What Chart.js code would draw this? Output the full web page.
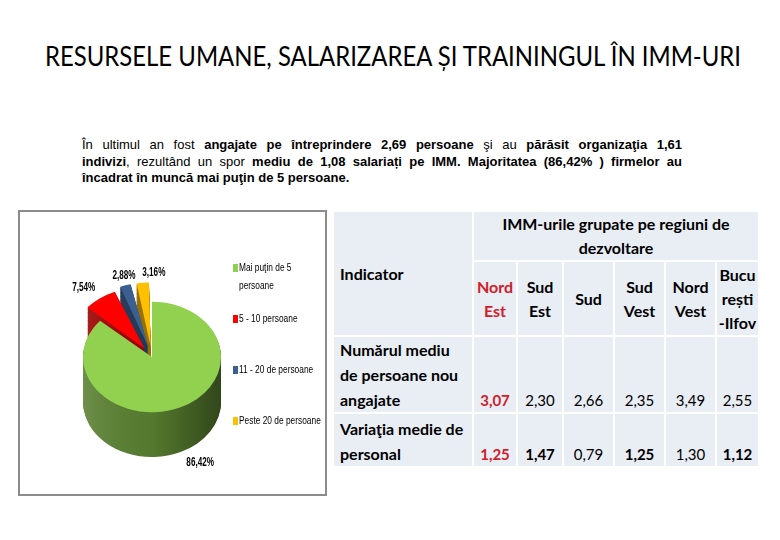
<!DOCTYPE html>
<html>
<head>
<meta charset="utf-8">
<title>Resursele umane în IMM-uri</title>
<script src="https://cdn.jsdelivr.net/npm/chart.js"></script>
<style>
  body { margin:0; width:780px; height:540px; background:#fff; position:relative; overflow:hidden; }
  #title { position:absolute; left:0; top:39px; width:780px; text-align:center; font-family:Lato, "Open Sans", sans-serif; font-size:27px; color:#000; white-space:nowrap; }
  #title span { display:inline-block; transform-origin:center; }
  #intro { position:absolute; left:82px; top:137px; width:600px; margin:0; font-family:"Liberation Sans", Arial, sans-serif; font-size:13px; line-height:16.5px; color:#000; }
  #intro div { text-align:justify; text-align-last:justify; white-space:nowrap; }
  #intro div:last-child { text-align-last:left; }
  #pieBox { position:absolute; left:18px; top:210px; width:309px; height:286px; box-sizing:border-box; border:2px solid #8c8c8c; }
  #regionTable { position:absolute; left:332px; top:210px; border-collapse:separate; border-spacing:2px; table-layout:fixed; font-family:Lato, sans-serif; font-size:15px; color:#000; }
  #regionTable th, #regionTable td { background:#e9edf4; padding:0; white-space:nowrap; }
  #regionTable th { font-weight:bold; font-size:16px; line-height:24px; vertical-align:middle; text-align:center; }
  #regionTable th.ind { text-align:left; padding-left:6px; }
  #regionTable td { vertical-align:bottom; text-align:center; line-height:24px; }
  #regionTable td.ind { text-align:left; padding-left:6px; font-weight:bold; font-size:16px; line-height:25px; }
  #regionTable .hl { color:#d0202a; font-weight:bold; }
  #regionTable tr.r2 td:nth-child(3), #regionTable tr.r2 td:nth-child(5), #regionTable tr.r2 td:nth-child(7) { font-weight:bold; }
</style>
</head>
<body>
<div id="title"><span>RESURSELE UMANE, SALARIZAREA ȘI TRAININGUL ÎN IMM-URI</span></div>
<div id="intro">
  <div>În ultimul an fost <b>angajate pe întreprindere 2,69 persoane</b> şi au <b>părăsit organizaţia 1,61</b></div>
  <div><b>indivizi</b>, rezultând un spor <b>mediu de 1,08 salariați pe IMM. Majoritatea (86,42% ) firmelor au</b></div>
  <div><b>încadrat în muncă mai puţin de 5 persoane.</b></div>
</div>
<div id="pieBox"><canvas id="pieChart" width="305" height="282"></canvas></div>
<table id="regionTable"></table>
<script>
// pie: firme după numărul de persoane angajate
const sizeLabels = [["Mai puţin de 5", "persoane"], ["5 - 10 persoane"], ["11 - 20 de persoane"], ["Peste 20 de persoane"]];
const sizeShares = [86.42, 7.54, 2.88, 3.16];
const sizeColors = ["#92d050", "#ff0000", "#3b5f91", "#ffc000"];

// tabel: IMM-urile grupate pe regiuni de dezvoltare
const regions = [["Nord", "Est"], ["Sud", "Est"], ["Sud"], ["Sud", "Vest"], ["Nord", "Vest"], ["Bucu", "rești", "-Ilfov"]];
const indicators = [["Numărul mediu", "de persoane nou", "angajate"], ["Variaţia medie de", "personal"]];
const newHires = [3.07, 2.30, 2.66, 2.35, 3.49, 2.55];
const staffChange = [1.25, 1.47, 0.79, 1.25, 1.30, 1.12];

const fmt = v => v.toFixed(2).replace(".", ",");

// squeeze the title to the slide width
const t = document.querySelector("#title span");
t.style.transform = "scaleX(" + (696 / t.offsetWidth) + ")";

// build the table
const colW = [138, 42, 44, 49, 49, 49, 41];
const rowH = [44, 73, 73, 52];
const table = document.getElementById("regionTable");
let html = "<colgroup>" + colW.map(w => `<col style="width:${w}px">`).join("") + "</colgroup>";
html += `<tr style="height:${rowH[0]}px"><th class="ind" rowspan="2">Indicator</th><th colspan="${regions.length}">IMM-urile grupate pe regiuni de<br>dezvoltare</th></tr>`;
html += `<tr style="height:${rowH[1]}px">` + regions.map((r, i) => `<th${i === 0 ? ' class="hl"' : ""}>${r.join("<br>")}</th>`).join("") + "</tr>";
[newHires, staffChange].forEach((row, k) => {
  html += `<tr class="r${k + 1}" style="height:${rowH[k + 2]}px"><td class="ind">${indicators[k].join("<br>")}</td>` +
    row.map((v, i) => `<td${i === 0 ? ' class="hl"' : ""}>${fmt(v)}</td>`).join("") + "</tr>";
});
table.innerHTML = html;

const TILT = 0.8;
const DEPTH = 56;

// fake 3D: squash the pie and stack darker copies under it
const pie3d = {
  id: "pie3d",
  beforeDatasetsDraw(chart) {
    const ctx = chart.ctx;
    const arcs = chart.getDatasetMeta(0).data;
    const cx = arcs[0].x, cy = arcs[0].y, r = arcs[0].outerRadius;
    ctx.save();
    ctx.translate(cx, cy);
    ctx.scale(1, TILT);
    ctx.translate(-cx, -cy);
    for (let d = DEPTH; d > 0; d -= 1) {
      ctx.save();
      ctx.translate(0, d);
      ctx.filter = "brightness(0.62)";
      arcs.forEach(a => a.draw(ctx));
      ctx.restore();
    }
    ctx.save();
    ctx.globalCompositeOperation = "source-atop";
    const g = ctx.createLinearGradient(cx - r, 0, cx + r, 0);
    g.addColorStop(0, "rgba(255,255,255,0.12)");
    g.addColorStop(0.5, "rgba(0,0,0,0.05)");
    g.addColorStop(1, "rgba(0,0,0,0.45)");
    ctx.fillStyle = g;
    ctx.fillRect(cx - r - 40, cy - r - 40, 2 * r + 80, 2 * r + DEPTH + 80);
    ctx.restore();
  },
  afterDatasetsDraw(chart) {
    chart.ctx.restore();
  },
  afterDraw(chart) {
    const ctx = chart.ctx;
    const arcs = chart.getDatasetMeta(0).data;
    const cx = arcs[0].x, cy = arcs[0].y, r = arcs[0].outerRadius;
    ctx.save();
    ctx.fillStyle = "#000";
    ctx.textBaseline = "middle";
    // percentage labels
    ctx.font = 'bold 12px "Liberation Sans", Arial, sans-serif';
    arcs.forEach((a, i) => {
      const mid = (a.startAngle + a.endAngle) / 2;
      const c = Math.cos(mid), s = Math.sin(mid);
      const R = r + (a.options.offset || 0) * 0.28 + 14;
      const x = cx + c * R;
      const y = cy + s * R * 0.86 + (s > 0 ? DEPTH * TILT * 0.9 : 0);
      ctx.save();
      ctx.translate(x, y);
      ctx.scale(0.68, 1);
      ctx.textAlign = c > -0.2 ? "left" : (c > -0.35 ? "center" : "right");
      ctx.fillText(fmt(chart.data.datasets[0].data[i]) + "%", 0, 0);
      ctx.restore();
    });
    // legend
    ctx.font = '11px "Liberation Sans", Arial, sans-serif';
    ctx.textAlign = "left";
    const lx = cx + r + 12;
    const top = chart.chartArea.top - 4;
    chart.data.labels.forEach((lab, i) => {
      const y = top + i * 51;
      ctx.fillStyle = sizeColors[i];
      ctx.fillRect(lx, y - 4, 5, 8);
      ctx.fillStyle = "#000";
      lab.forEach((line, j) => {
        ctx.save();
        ctx.translate(lx + 6, y + j * 18);
        ctx.scale(0.76, 1);
        ctx.fillText(line, 0, 0);
        ctx.restore();
      });
    });
    ctx.restore();
  }
};

new Chart(document.getElementById("pieChart"), {
  type: "pie",
  data: {
    labels: sizeLabels,
    datasets: [{
      data: sizeShares,
      backgroundColor: sizeColors,
      borderWidth: 0,
      offset: [0, 54, 54, 54]
    }]
  },
  options: {
    responsive: false,
    animation: false,
    devicePixelRatio: 1,
    radius: 69,
    layout: { padding: { left: 10, right: 51, top: 60, bottom: 52 } },
    plugins: { legend: { display: false }, tooltip: { enabled: false } }
  },
  plugins: [pie3d]
});
</script>
</body>
</html>
